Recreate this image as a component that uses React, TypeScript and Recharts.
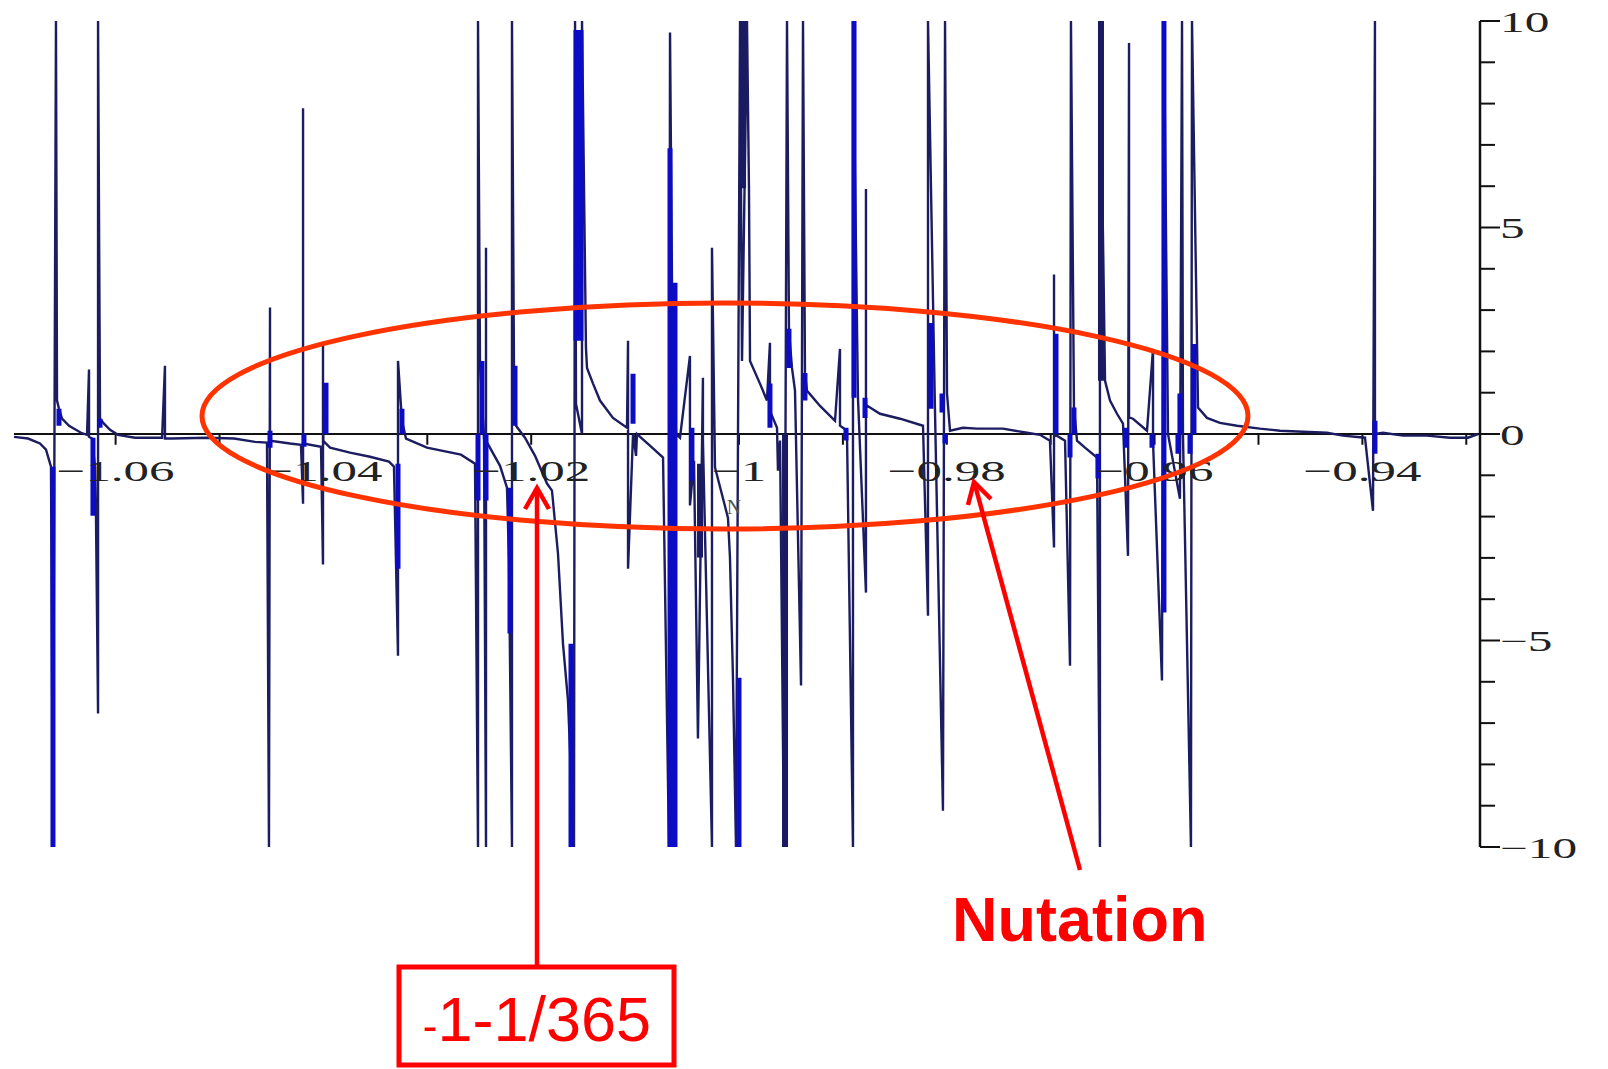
import React from 'react';
import { LineChart, Line, XAxis, YAxis, ReferenceLine, ReferenceDot } from 'recharts';

// ---- thin trace (in data units) ----
const traceX = [
  -1.06978, -1.06843, -1.06728, -1.0667, -1.06622, -1.06603, -1.06574, -1.06564, -1.06545, -1.06516,
  -1.06448, -1.06333, -1.06275, -1.06256, -1.06256, -1.06227, -1.06198, -1.06189, -1.06169, -1.06169,
  -1.0615, -1.06112, -1.06054, -1.05977, -1.05813, -1.05553, -1.05525, -1.05525, -1.05457, -1.0512,
  -1.0486, -1.04658, -1.04543, -1.04524, -1.04514, -1.04514, -1.04321, -1.04216, -1.04196, -1.04196,
  -1.04196, -1.04023, -1.04004, -1.04004, -1.04004, -1.03936, -1.03744, -1.03552, -1.03369, -1.03321,
  -1.03282, -1.03282, -1.03244, -1.03205, -1.03003, -1.02676, -1.02541, -1.02512, -1.02512, -1.02493,
  -1.02454, -1.02435, -1.02435, -1.02435, -1.023, -1.02233, -1.02214, -1.02185, -1.02185, -1.02166,
  -1.02146, -1.0206, -1.01963, -1.01848, -1.018, -1.01742, -1.01694, -1.01646, -1.01588, -1.01578,
  -1.01569, -1.01511, -1.01511, -1.01473, -1.01463, -1.01405, -1.01338, -1.01213, -1.01078, -1.01068,
  -1.01068, -1.0102, -1.00991, -1.00982, -1.00857, -1.00731, -1.00674, -1.00664, -1.00645, -1.00606,
  -1.00568, -1.00472, -1.00472, -1.00433, -1.00395, -1.00347, -1.00347, -1.0026, -1.0026, -1.00231,
  -1.00106, -1.00087, -1.00058, -1.00029, -0.9999, -0.99971, -0.99923, -0.99904, -0.99894, -0.99798,
  -0.99731, -0.99702, -0.99702, -0.99634, -0.99625, -0.99605, -0.99567, -0.99538, -0.99519, -0.9949,
  -0.99461, -0.99403, -0.99384, -0.99365, -0.99346, -0.9922, -0.99076, -0.99028, -0.99028, -0.98961,
  -0.98903, -0.98903, -0.98855, -0.98778, -0.98778, -0.98778, -0.98739, -0.98643, -0.9845, -0.98229,
  -0.98181, -0.98181, -0.98114, -0.98037, -0.98017, -0.97998, -0.97969, -0.97844, -0.97709, -0.97459,
  -0.97228, -0.97103, -0.97007, -0.96968, -0.96968, -0.96968, -0.96862, -0.96814, -0.96805, -0.96776,
  -0.96747, -0.9667, -0.96554, -0.96526, -0.96526, -0.96477, -0.96429, -0.96362, -0.96304, -0.96256,
  -0.96246, -0.96246, -0.96208, -0.96073, -0.96015, -0.96015, -0.95929, -0.9591, -0.95871, -0.95756,
  -0.95736, -0.95727, -0.9565, -0.9564, -0.95582, -0.95496, -0.95371, -0.95207, -0.94986, -0.94793,
  -0.94341, -0.94187, -0.93975, -0.93898, -0.93879, -0.93879, -0.93802, -0.93609, -0.93378, -0.93157,
  -0.92984, -0.92887,
];
const traceY = [
  -0.07, -0.11, -0.23, -0.38, -0.79, -10, 10, 0.81, 0.61, 0.37,
  0.2, 0.03, -0.02, 1.56, -0.07, -0.11, -0.79, -1.98, -6.77, 10,
  0.37, 0.25, 0.1, -0.02, -0.09, -0.09, 1.65, -0.11, -0.11, -0.09,
  -0.11, -0.19, -0.21, -10, 3.06, -0.16, -0.23, -0.26, -1.69, 7.89,
  -0.23, -0.31, -3.16, 2.21, -0.16, -0.33, -0.45, -0.55, -0.67, -0.79,
  -5.37, 1.77, 0.32, -0.11, -0.33, -0.5, -0.72, -10, 10, 1.77,
  -0.16, -10, 4.51, -0.16, -0.77, -1.3, -3.07, -10, 10, 1.65,
  0.2, -0.09, -0.53, -1.2, -1.37, -2.9, -5.08, -6.45, -10, 10,
  0.73, 0, 10, 2.09, 1.6, 1.22, 0.81, 0.39, 0.15, 2.26,
  -3.26, 0, -0.53, 0, -0.28, -0.57, -10, 9.72, 3.66, 0,
  -0.09, 1.89, -1.73, -0.65, -7.37, 1.36, -0.16, -10, 4.51, -0.81,
  -2.03, -2.99, -5.9, -10, 10, 1.77, 10, 5.93, 1.77, 1.22,
  0.81, 2.21, 0.56, 0.15, -0.89, -0.16, -10, 10, 2.5, 1.6,
  1.05, -6.09, 10, 1.48, 1.05, 0.68, 0.32, 2.06, 0.2, 0.08,
  -10, 10, 0.88, -3.84, 5.93, 0.7, 0.64, 0.49, 0.37, 0.2,
  -4.4, 10, 0.61, -9.12, 10, 0.98, 0.08, 0.15, 0.13, 0.13,
  0.03, -0.02, -0.16, -2.75, 3.86, 0, -0.16, -5.61, 10, 0.64,
  -0.16, -0.33, -0.57, -10, 10, 1.29, 0.81, 0.49, 0.25, -2.95,
  9.47, 0.4, 0.37, 0.08, 2.06, -0.2, -5.97, 10, 0, -1.57,
  10, 0, -10, 10, 0.64, 0.39, 0.27, 0.2, 0.13, 0.08,
  0.03, -0.04, -0.09, -1.86, 10, 0, 0.03, -0.04, -0.04, -0.09,
  -0.09, 0,
];

// ---- thick bright-blue strokes (x, top, bottom) ----
const blueX = [
  -1.06603, -1.06545, -1.06218, -1.0615, -1.04514, -1.04187, -1.03975, -1.03282, -1.03244, -1.02474,
  -1.02512, -1.02435, -1.02204, -1.02156, -1.01617, -1.01569, -1.01521, -1.0102, -1.00664, -1.00616,
  -1.00453, -1.0, -0.99702, -0.99519, -0.99365, -0.9897, -0.98893, -0.98787, -0.98152, -0.98046,
  -0.98017, -0.96949, -0.96776, -0.96814, -0.96545, -0.96275, -0.96025, -0.9591, -0.95756, -0.95775,
  -0.95621, -0.95659, -0.93879,
];
const blueTop = [
  -0.79, 0.61, -0.09, 0.37, 0.08, 0, 1.24, -0.72, 0.61, 1.77,
  0, 0, -1.3, 1.65, -5.08, 9.78, 9.78, 1.46, 6.92, 3.66,
  0.15, -5.9, 1.22, 2.55, 1.48, 0.15, 10, 0.88, 2.69, 0.98,
  0, 2.43, 0.64, 0, -0.48, 0.15, 0, 10, 0.98, 0,
  2.18, 0, 0.32,
];
const blueBottom = [
  -10, 0.2, -1.98, 0.15, -0.33, -0.31, 0, -3.26, 0, 0,
  -1.61, -1.61, -4.83, 0.2, -10, 2.26, 2.26, 0.25, -10, -10,
  -1.13, -10, 0.15, 1.6, 0.81, -0.16, 0.88, 0.39, 0.61, 0.52,
  -0.23, 0, 0, -0.57, -1.08, -0.33, -0.33, -4.32, 0, -0.48,
  0, -0.48, -0.48,
];

// ---- thick dark-navy strokes ----
const navyX = [-1.00375, -0.99961, -0.99557, -0.96516];
const navyTop = [-0.72, 10, 0, 10];
const navyBottom = [-2.99, 5.95, -10, 1.29];

// ---- axes ----
const xDomain = [-1.06978, -0.92868];
const yDomain = [-10, 10];
const xTickValues = [-1.06, -1.05, -1.04, -1.03, -1.02, -1.01, -1.0, -0.99, -0.98, -0.97, -0.96, -0.95, -0.94, -0.93];
const xLabelValues = [-1.06, -1.04, -1.02, -1.0, -0.98, -0.96, -0.94];
const xLabelTexts = ['−1.06', '−1.04', '−1.02', '−1', '−0.98', '−0.96', '−0.94'];
const yTickValues = [-10, -9, -8, -7, -6, -5, -4, -3, -2, -1, 0, 1, 2, 3, 4, 5, 6, 7, 8, 9, 10];
const yLabelValues = [10, 5, 0, -5, -10];
const yLabelTexts = ['10', '5', '0', '−5', '−10'];

const SERIF = "'Liberation Serif', 'DejaVu Serif', 'Times New Roman', serif";
const SANS = "'Liberation Sans', Arial, 'DejaVu Sans', sans-serif";

const n = Math.min(traceX.length, traceY.length);
const traceData = traceX.slice(0, n).map((x, i) => ({ x, y: traceY[i] }));

function strokes(xs: number[], tops: number[], bottoms: number[]) {
  const out: { x: number; y: number | null }[] = [];
  xs.forEach((x, i) => {
    out.push({ x, y: tops[i] });
    out.push({ x, y: bottoms[i] });
    out.push({ x, y: null });
  });
  return out;
}
const blueData = strokes(blueX, blueTop, blueBottom);
const navyData = strokes(navyX, navyTop, navyBottom);

const YTick = (props: any) => {
  const { x, y, payload } = props;
  const v = payload.value;
  const idx = yLabelValues.indexOf(v);
  const major = idx >= 0;
  return (
    <g>
      <line x1={x} y1={y} x2={x + (major ? 20 : 15)} y2={y} stroke="#111" strokeWidth={2} />
      {major && (
        <text
          transform={`translate(${x + 20},${y + 1}) scale(1.7,1)`}
          textAnchor="start"
          dominantBaseline="central"
          fontFamily={SERIF}
          fontSize={29}
          fill="#222"
        >
          {yLabelTexts[idx]}
        </text>
      )}
    </g>
  );
};

export default function App() {
  return (
    <div style={{ position: 'absolute', left: 0, top: 0, width: 1608, height: 1069, background: '#fff', overflow: 'hidden' }}>
      <LineChart width={1608} height={1069} margin={{ top: 21, right: 0, bottom: 222, left: 14 }}>
        <XAxis type="number" dataKey="x" domain={xDomain} allowDataOverflow hide />
        <YAxis
          type="number"
          orientation="right"
          width={128}
          domain={yDomain}
          ticks={yTickValues}
          interval={0}
          allowDataOverflow
          tickSize={0}
          tickMargin={0}
          tickLine={false}
          axisLine={{ stroke: '#111', strokeWidth: 2.5 }}
          tick={<YTick />}
        />
        {xLabelValues.map((v, i) => (
          <ReferenceDot
            key={'xl' + i}
            x={v}
            y={0}
            r={0}
            ifOverflow="visible"
            shape={(p: any) => (
              <text
                transform={`translate(${p.cx},${p.cy + 47}) scale(1.7,1)`}
                textAnchor="middle"
                fontFamily={SERIF}
                fontSize={30}
                fill="#222"
              >
                {xLabelTexts[i]}
              </text>
            )}
          />
        ))}
        <ReferenceLine y={0} stroke="#111" strokeWidth={2.2} />
        {xTickValues.map((v, i) => (
          <ReferenceLine
            key={'xt' + i}
            segment={[{ x: v, y: 0 }, { x: v, y: -0.26 }]}
            stroke="#111"
            strokeWidth={2}
            ifOverflow="visible"
          />
        ))}
        <Line
          data={traceData}
          dataKey="y"
          type="linear"
          stroke="#1c1c60"
          strokeWidth={2.4}
          dot={false}
          activeDot={false}
          isAnimationActive={false}
        />
        <Line
          data={blueData}
          dataKey="y"
          type="linear"
          stroke="#0c0cc4"
          strokeWidth={5}
          dot={false}
          activeDot={false}
          connectNulls={false}
          isAnimationActive={false}
        />
        <Line
          data={navyData}
          dataKey="y"
          type="linear"
          stroke="#1a1a62"
          strokeWidth={6}
          dot={false}
          activeDot={false}
          connectNulls={false}
          isAnimationActive={false}
        />
      </LineChart>
      <svg
        width={1608}
        height={1069}
        style={{ position: 'absolute', left: 0, top: 0, pointerEvents: 'none' }}
      >
        <text x={734} y={514} textAnchor="middle" fontFamily={SERIF} fontSize={20} fill="#555">N</text>
        <ellipse cx={725} cy={416} rx={523} ry={113} fill="none" stroke="#ff3300" strokeWidth={5} />
        <line x1={537} y1={967} x2={537} y2={490} stroke="#ff0000" strokeWidth={4.5} />
        <polyline points="525,509 537,488 549,509" fill="none" stroke="#ff0000" strokeWidth={4.5} />
        <line x1={1080} y1={870} x2={975} y2={485} stroke="#ff0000" strokeWidth={4.5} />
        <polyline points="968,505 974,482 991,499" fill="none" stroke="#ff0000" strokeWidth={4.5} />
        <rect x={399} y={967} width={275} height={98} fill="#fff" stroke="#ff0000" strokeWidth={5} />
        <text x={537} y={1041} textAnchor="middle" fontFamily={SANS} fontSize={63} fill="#ff0000">
          <tspan fontSize={44}>-</tspan>1-1/365
        </text>
        <text x={952} y={941} fontFamily={SANS} fontWeight="bold" fontSize={63} fill="#ff0000">Nutation</text>
      </svg>
    </div>
  );
}
